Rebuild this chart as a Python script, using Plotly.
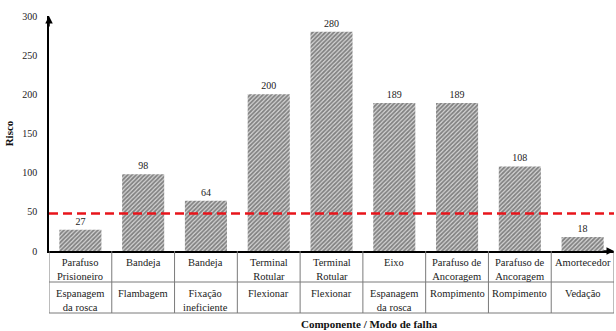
import plotly.graph_objects as go

componentes = ["Parafuso<br>Prisioneiro", "Bandeja", "Bandeja", "Terminal<br>Rotular", "Terminal<br>Rotular",
               "Eixo", "Parafuso de<br>Ancoragem", "Parafuso de<br>Ancoragem", "Amortecedor"]
modos = ["Espanagem<br>da rosca", "Flambagem", "Fixação<br>ineficiente", "Flexionar", "Flexionar",
         "Espanagem<br>da rosca", "Rompimento", "Rompimento", "Vedação"]
risco = [27, 98, 64, 200, 280, 189, 189, 108, 18]
limite = 48
y_ticks = [0, 50, 100, 150, 200, 250, 300]

W, H = 616, 331
L, R, T, B = 49, 2, 16, 80
ph = H - T - B
FONT = "Liberation Serif"

def py(pix):
    return (H - B - pix) / ph

xs = list(range(len(risco)))
fig = go.Figure()
fig.add_trace(go.Bar(
    x=xs, y=risco, width=0.67,
    marker=dict(color="#d0d0d0", line=dict(width=0),
                pattern=dict(shape="/", fgcolor="#2a2a2a", bgcolor="#d8d8d8", size=3, solidity=0.6)),
    text=[str(v) for v in risco], textposition="outside", cliponaxis=False,
    textfont=dict(family=FONT, size=10, color="#222"),
))

shapes = []
shapes.append(dict(type="line", xref="paper", x0=0, x1=1, yref="y", y0=limite, y1=limite,
                   line=dict(color="#e8141b", width=2.5, dash="9px,5px")))
grey = "#7a7a7a"
for i in range(len(risco) + 1):
    shapes.append(dict(type="line", xref="x", x0=i - 0.5, x1=i - 0.5, yref="paper",
                       y0=py(251), y1=py(313), line=dict(color=grey, width=1)))
for yy in (282, 313):
    shapes.append(dict(type="line", xref="x", x0=-0.5, x1=len(risco) - 0.5, yref="paper",
                       y0=py(yy), y1=py(yy), line=dict(color=grey, width=1)))

ann = []
for i in xs:
    ann.append(dict(x=i, xref="x", y=py(255), yref="paper", text=componentes[i], showarrow=False,
                    yanchor="top", font=dict(family=FONT, size=10.5, color="#222")))
    ann.append(dict(x=i, xref="x", y=py(286), yref="paper", text=modos[i], showarrow=False,
                    yanchor="top", font=dict(family=FONT, size=10.5, color="#222")))
ann.append(dict(x=(369 - L) / (W - L - R), xref="paper", y=py(323.5), yref="paper",
                text="<b>Componente / Modo de falha</b>", showarrow=False,
                xanchor="center", yanchor="middle",
                font=dict(family=FONT, size=11, color="#111")))
# axis arrows
ann.append(dict(x=0, xref="paper", y=1.0, yref="paper", ax=0, ay=12, axref="pixel", ayref="pixel",
                text="", showarrow=True, arrowhead=2, arrowsize=1, arrowwidth=1.5, arrowcolor="#000"))
ann.append(dict(x=1.0, xref="paper", y=0, yref="paper", ax=-12, ay=0, axref="pixel", ayref="pixel",
                text="", showarrow=True, arrowhead=2, arrowsize=1, arrowwidth=1.5, arrowcolor="#000"))

fig.update_layout(
    width=W, height=H, margin=dict(l=L, r=R, t=T, b=B),
    plot_bgcolor="white", paper_bgcolor="white", showlegend=False,
    shapes=shapes, annotations=ann,
    xaxis=dict(range=[-0.5, len(risco) - 0.5], showticklabels=False, showgrid=False, zeroline=False,
               showline=True, linecolor="#000", linewidth=1.5, ticks=""),
    yaxis=dict(range=[0, 300], tickvals=y_ticks, showgrid=False, zeroline=False,
               showline=True, linecolor="#000", linewidth=1.5, ticks="", ticklabelstandoff=8,
               tickfont=dict(family=FONT, size=10, color="#222"),
               title=dict(text="<b>Risco</b>", font=dict(family=FONT, size=11, color="#111"), standoff=6)),
)
fig.write_html("out.html")
